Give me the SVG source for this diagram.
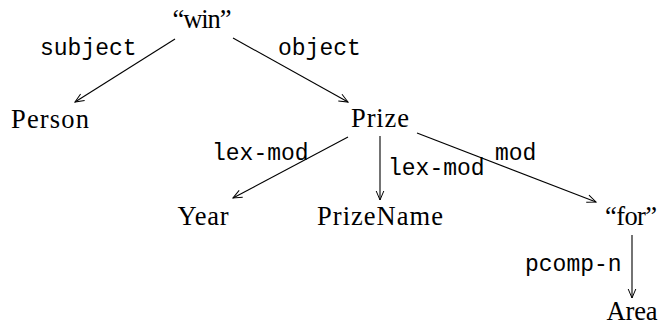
<svg xmlns="http://www.w3.org/2000/svg" width="660" height="325" viewBox="0 0 660 325">
  <defs>
    <marker id="arrow" viewBox="-10 -6 12 12" markerWidth="12" markerHeight="12" refX="0" refY="0" orient="auto" markerUnits="userSpaceOnUse">
      <path d="M -9 -3.8 L 0 0 L -9 3.8" fill="none" stroke="#000" stroke-width="1"/>
    </marker>
  </defs>
  <style>
    .node { font-family: "Liberation Serif", "Times New Roman", serif; font-size: 26.5px; fill: #000; text-anchor: middle; }
    .lbl { font-family: "Liberation Mono", "Courier New", monospace; font-size: 23px; fill: #000; }
    .edge { stroke: #000; stroke-width: 1.1; fill: none; marker-end: url(#arrow); }
  </style>
  <rect width="660" height="325" fill="#fff"/>

  <g id="edges">
    <line class="edge" x1="175" y1="39" x2="75" y2="102"/>
    <line class="edge" x1="233" y1="38" x2="348" y2="102"/>
    <line class="edge" x1="348" y1="137" x2="233" y2="198"/>
    <line class="edge" x1="380" y1="136" x2="380" y2="200"/>
    <line class="edge" x1="417" y1="133" x2="596" y2="202"/>
    <line class="edge" x1="632" y1="235" x2="632" y2="298"/>
    <text class="lbl" x="40" y="55">subject</text>
    <text class="lbl" x="278" y="55">object</text>
    <text class="lbl" x="212" y="160">lex-mod</text>
    <text class="lbl" x="388" y="175">lex-mod</text>
    <text class="lbl" x="495" y="160">mod</text>
    <text class="lbl" x="525" y="271">pcomp-n</text>
  </g>

  <g id="win"><text class="node" x="202" y="28" textLength="59">“win”</text></g>
  <g id="person"><text class="node" x="50" y="128" textLength="78">Person</text></g>
  <g id="prize"><text class="node" x="380" y="127" textLength="58">Prize</text></g>
  <g id="year"><text class="node" x="203" y="225" textLength="51">Year</text></g>
  <g id="prizename"><text class="node" x="380" y="225" textLength="126">PrizeName</text></g>
  <g id="for"><text class="node" x="631" y="225" textLength="52">“for”</text></g>
  <g id="area"><text class="node" x="632" y="320" textLength="51">Area</text></g>
</svg>
